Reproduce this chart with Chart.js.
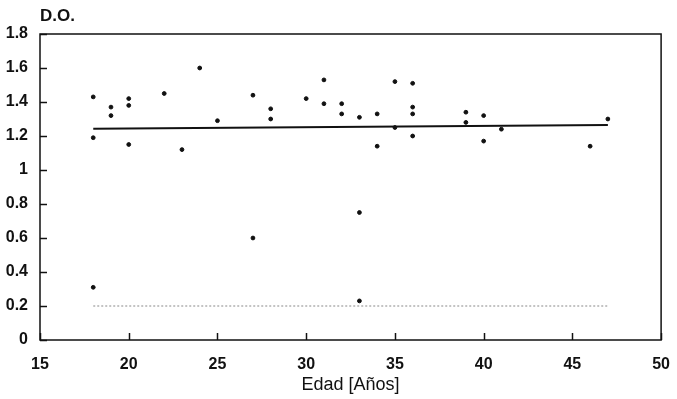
<!DOCTYPE html>
<html>
<head>
<meta charset="utf-8">
<script src="https://cdn.jsdelivr.net/npm/chart.js@4"></script>
<style>
    html, body { margin: 0; padding: 0; background: #fff; }
    #wrap { width: 677px; height: 399px; }
</style>
</head>
<body>
<div id="wrap"><canvas id="doChart" width="677" height="399"></canvas></div>
<script>
// Data
const edad = [18, 18, 18, 19, 19, 20, 20, 20, 22, 23, 24, 25, 27, 27, 28, 28, 30, 31, 31,
    32, 32, 33, 33, 33, 34, 34, 35, 35, 36, 36, 36, 36, 39, 39, 40, 40, 41, 46, 47];
const dOptica = [1.43, 1.19, 0.31, 1.37, 1.32, 1.42, 1.38, 1.15, 1.45, 1.12, 1.60, 1.29, 1.44, 0.60, 1.36, 1.30, 1.42, 1.53, 1.39,
    1.39, 1.33, 1.31, 0.75, 0.23, 1.33, 1.14, 1.52, 1.25, 1.51, 1.37, 1.33, 1.20, 1.34, 1.28, 1.32, 1.17, 1.24, 1.14, 1.30];

// regression line and cut-off line (ends)
const regX = [18, 47];
const regY = [1.243, 1.265];
const corteX = [18, 47];
const corteY = [0.2, 0.2];

const xTicks = [15, 20, 25, 30, 35, 40, 45, 50];
const yTicks = [0, 0.2, 0.4, 0.6, 0.8, 1, 1.2, 1.4, 1.6, 1.8];

const tickFont = { family: 'Liberation Sans, Arial, sans-serif', size: 16, weight: 'bold' };

// Box around the plot and inward tick marks
const boxTicks = {
    id: 'boxTicks',
    afterDatasetsDraw(chart) {
        const ctx = chart.ctx;
        const a = chart.chartArea;
        const xs = chart.scales.x, ys = chart.scales.y;
        ctx.save();
        ctx.setLineDash([]);
        ctx.strokeStyle = '#111';
        ctx.lineWidth = 1.5;
        ctx.strokeRect(a.left, a.top, a.right - a.left, a.bottom - a.top);
        xTicks.forEach(v => {
            const px = Math.round(xs.getPixelForValue(v)) + 0.5;
            ctx.beginPath();
            ctx.moveTo(px, a.bottom);
            ctx.lineTo(px, a.bottom - 7);
            ctx.stroke();
        });
        yTicks.forEach(v => {
            const py = Math.round(ys.getPixelForValue(v)) + 0.5;
            ctx.beginPath();
            ctx.moveTo(a.left, py);
            ctx.lineTo(a.left + 7, py);
            ctx.stroke();
        });
        // "D.O." label over the y axis
        ctx.fillStyle = '#111';
        ctx.font = 'bold 17px Liberation Sans, Arial, sans-serif';
        ctx.textBaseline = 'alphabetic';
        ctx.textAlign = 'left';
        ctx.fillText('D.O.', a.left, a.top - 13);
        ctx.restore();
    }
};

const doChart = new Chart(document.getElementById('doChart'), {
    type: 'scatter',
    data: {
        datasets: [{
            label: 'D.O.',
            data: edad.map((x, i) => ({ x: x, y: dOptica[i] })),
            backgroundColor: '#111',
            borderColor: '#111',
            pointRadius: 1.9,
            pointHoverRadius: 1.9
        }, {
            label: 'Regresion',
            type: 'line',
            data: regX.map((x, i) => ({ x: x, y: regY[i] })),
            borderColor: '#111',
            borderWidth: 2,
            pointRadius: 0,
            fill: false
        }, {
            label: 'Corte',
            type: 'line',
            data: corteX.map((x, i) => ({ x: x, y: corteY[i] })),
            borderColor: '#888',
            borderWidth: 1,
            borderDash: [2, 2],
            pointRadius: 0,
            fill: false
        }]
    },
    options: {
        responsive: false,
        animation: false,
        layout: {
            padding: { top: 34, right: 13, left: 0, bottom: 0 }
        },
        plugins: {
            legend: { display: false },
            tooltip: { enabled: false }
        },
        scales: {
            x: {
                type: 'linear',
                min: 15,
                max: 50,
                afterBuildTicks: s => { s.ticks = xTicks.map(v => ({ value: v })); },
                grid: { display: false },
                border: { display: false },
                ticks: { color: '#111', font: tickFont, padding: 7, maxRotation: 0 },
                title: {
                    display: true,
                    text: 'Edad [Años]',
                    color: '#111',
                    font: { family: 'Liberation Sans, Arial, sans-serif', size: 18 },
                    padding: { top: 0, bottom: 3 }
                },
                afterFit: s => { s.height = 59; }
            },
            y: {
                min: 0,
                max: 1.8,
                afterBuildTicks: s => { s.ticks = yTicks.map(v => ({ value: v })); },
                grid: { display: false },
                border: { display: false },
                ticks: {
                    color: '#111',
                    font: tickFont,
                    padding: 4,
                    callback: v => String(Math.round(v * 10) / 10)
                },
                afterFit: s => { s.width = 40; }
            }
        }
    },
    plugins: [boxTicks]
});
</script>
</body>
</html>
